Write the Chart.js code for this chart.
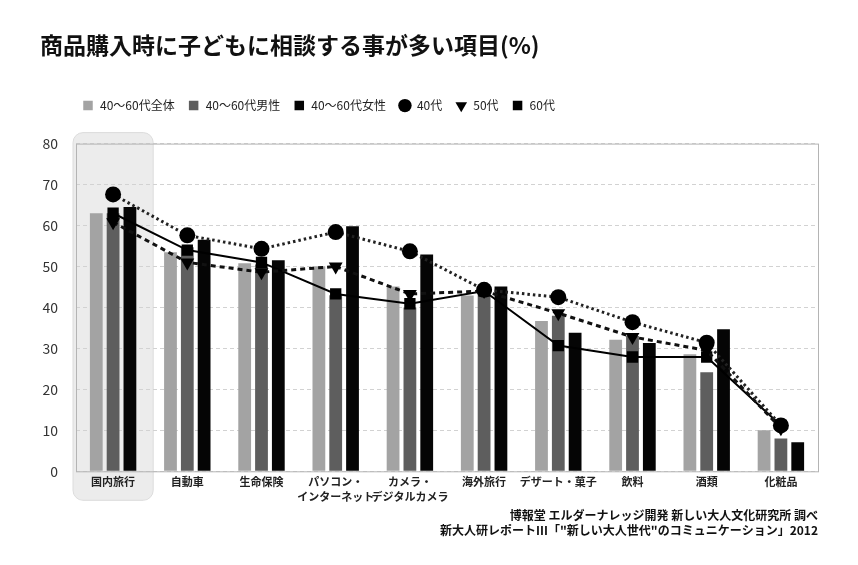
<!DOCTYPE html>
<html>
<head>
<meta charset="utf-8">
<script src="https://cdn.jsdelivr.net/npm/chart.js@4/dist/chart.umd.min.js"></script>
<style>
  html, body { margin: 0; padding: 0; background: #fff; }
  #wrap { width: 858px; height: 565px; }
</style>
</head>
<body>
<div id="wrap"><canvas id="chart"></canvas></div>
<script>
// data
var categories = ['国内旅行', '自動車', '生命保険', ['パソコン・', 'インターネット'], ['カメラ・', 'デジタルカメラ'],
  '海外旅行', 'デザート・菓子', '飲料', '酒類', '化粧品'];
var allValues    = [63, 53.5, 50.8, 50, 45.1, 42.9, 36.7, 32.1, 28.6, 10];
var maleValues   = [63, 54.7, 50.5, 43, 40, 43.4, 38, 33, 24.2, 8];
var femaleValues = [64.5, 56.5, 51.5, 59.8, 52.9, 45.1, 33.8, 31.3, 34.7, 7.1];
var age40 = [67.6, 57.6, 54.3, 58.4, 53.7, 44.3, 42.5, 36.4, 31.4, 11.2];
var age50 = [60.8, 51, 48.6, 50, 43.3, 44, 38.6, 32.8, 29.5, 10.5];
var age60 = [63, 54, 51, 43.3, 40.9, 44, 30.7, 27.9, 27.9, 11.2];
var yTicks = [0, 10, 20, 30, 40, 50, 60, 70, 80];

var FONT = "'Noto Sans CJK JP', 'Noto Sans', sans-serif";

// grey rounded box behind the first category + frame around the plot
var frame = {
  id: 'frame',
  beforeDraw: function (chart) {
    var ctx = chart.ctx, x = chart.scales.x, a = chart.chartArea;
    var cx = x.getPixelForValue(0);
    var half = (x.getPixelForValue(1) - cx) / 2 + 3;
    var l = cx - half, t = a.top - 11, w = half * 2, h = a.bottom + 29 - t;
    ctx.save();
    ctx.fillStyle = '#ececec';
    ctx.strokeStyle = '#dcdcdc';
    ctx.beginPath();
    ctx.roundRect(l, t, w, h, 10);
    ctx.fill();
    ctx.stroke();
    ctx.restore();
  },
  beforeDatasetsDraw: function (chart) {
    var ctx = chart.ctx, a = chart.chartArea;
    ctx.save();
    ctx.strokeStyle = '#b4b4b4';
    ctx.lineWidth = 1;
    ctx.strokeRect(a.left + 0.5, a.top + 0.5, a.right - a.left, a.bottom - a.top);
    ctx.restore();
  },
  afterLayout: function (chart) {
    chart.legend.left += 29;
    chart.legend.right += 29;
  }
};

new Chart(document.getElementById('chart'), {
  type: 'bar',
  data: {
    labels: categories,
    datasets: [
      { label: '40〜60代全体', data: allValues, backgroundColor: '#a3a3a3', pointStyle: 'rect', order: 2,
        barPercentage: 0.76, categoryPercentage: 0.68 },
      { label: '40〜60代男性', data: maleValues, backgroundColor: '#5e5e5e', pointStyle: 'rect', order: 2,
        barPercentage: 0.76, categoryPercentage: 0.68 },
      { label: '40〜60代女性', data: femaleValues, backgroundColor: '#050505', pointStyle: 'rect', order: 2,
        barPercentage: 0.76, categoryPercentage: 0.68 },
      { type: 'line', label: '40代', data: age40, borderColor: '#222', borderWidth: 3, borderDash: [2.5, 3],
        pointStyle: 'circle', pointRadius: 8, pointBackgroundColor: '#000',
        pointBorderWidth: 0, tension: 0, order: 0 },
      { type: 'line', label: '50代', data: age50, borderColor: '#111', borderWidth: 3, borderDash: [5, 4],
        pointStyle: 'triangle', rotation: 180, pointRadius: 8, pointBackgroundColor: '#000',
        pointBorderWidth: 0, tension: 0, order: 0 },
      { type: 'line', label: '60代', data: age60, borderColor: '#000', borderWidth: 2,
        pointStyle: 'rect', pointRadius: 8, pointBackgroundColor: '#000',
        pointBorderWidth: 0, tension: 0, order: 0 }
    ]
  },
  options: {
    responsive: true,
    maintainAspectRatio: false,
    animation: false,
    layout: { padding: { left: 40, right: 40, top: 31, bottom: 27 } },
    plugins: {
      title: {
        display: true, align: 'start', color: '#111',
        text: '商品購入時に子どもに相談する事が多い項目(%)',
        font: { family: FONT, size: 23, weight: 'bold' },
        padding: { top: 0, bottom: 28 }
      },
      subtitle: {
        display: true, position: 'bottom', align: 'end', color: '#111',
        text: ['博報堂 エルダーナレッジ開発 新しい大人文化研究所 調べ', '新大人研レポートIII「"新しい大人世代"のコミュニケーション」2012'],
        font: { family: FONT, size: 12, weight: 'bold', lineHeight: 1.25 },
        padding: { top: 1, bottom: 0 }
      },
      legend: {
        display: true, position: 'top', align: 'start',
        labels: {
          usePointStyle: true, boxHeight: 9.5, padding: 13, color: '#222',
          font: { family: FONT, size: 12 },
          sort: function (a, b) { return a.datasetIndex - b.datasetIndex; }
        }
      },
      tooltip: { enabled: false }
    },
    scales: {
      x: {
        grid: { display: false, drawTicks: false },
        border: { display: false },
        ticks: { color: '#222', padding: 3, maxRotation: 0, autoSkip: false,
          font: { family: FONT, size: 11, weight: 'bold', lineHeight: 1.35 } }
      },
      top: {
        type: 'category', position: 'top', display: true,
        grid: { display: false, drawTicks: false }, border: { display: false },
        ticks: { display: false },
        afterFit: function (s) { s.height = 22; }
      },
      y: {
        min: 0, max: 80,
        afterBuildTicks: function (s) { s.ticks = yTicks.map(function (v) { return { value: v }; }); },
        afterFit: function (s) { s.width = 36; },
        grid: { color: '#d2d2d2', drawTicks: false },
        border: { display: false, dash: [4, 3] },
        ticks: { color: '#333', padding: 18, font: { family: FONT, size: 14 } }
      }
    }
  },
  plugins: [frame]
});
</script>
</body>
</html>
